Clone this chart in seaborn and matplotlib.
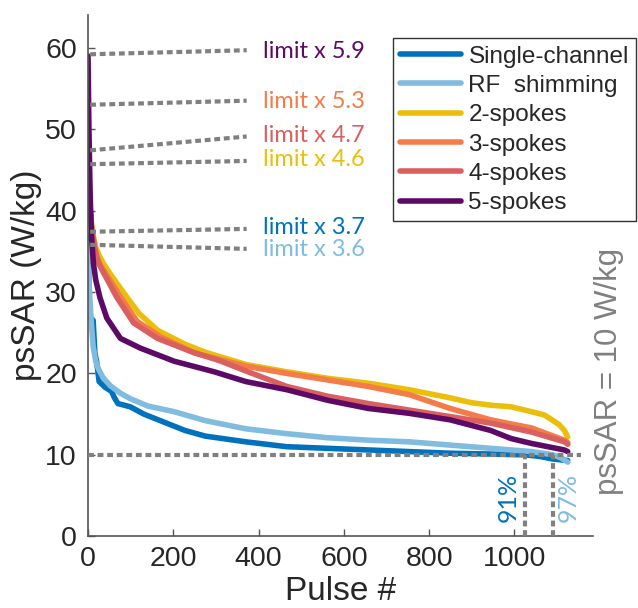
"""
psSAR per pulse, sorted in decreasing order, for the six excitation designs.
"""

import pandas as pd
import matplotlib
matplotlib.use("Agg")
import matplotlib.pyplot as plt
import seaborn as sns

# Series names and colours
SERIES = ["Single-channel", "RF  shimming", "2-spokes", "3-spokes", "4-spokes", "5-spokes"]
COLORS = ["#0072BD", "#80BBE0", "#EBBE0C", "#F47B4A", "#D9605F", "#5C0A66"]

# Pulse index and psSAR (W/kg)
single_x = [0, 2, 4, 12, 16, 20, 26, 40, 55, 62, 70, 99, 131, 179, 227, 275, 370, 466, 562, 657,
            753, 849, 944, 1025, 1060, 1088, 1125]
single_y = [37, 31, 27, 26.5, 22.5, 21.5, 19, 18.3, 17.8, 17, 16.3, 15.9, 15, 14, 13, 12.3, 11.6, 11,
            10.8, 10.6, 10.4, 10.2, 10.1, 10.0, 9.8, 9.5, 9.3]

rfshim_x = [0, 1, 4, 8, 12, 18, 24, 35, 52, 75, 99, 140, 202, 275, 370, 466, 562, 657, 753, 849, 944,
            1040, 1091, 1110, 1125]
rfshim_y = [36, 33, 29.3, 26, 23.3, 21.5, 20.6, 19.5, 18.5, 17.6, 16.9, 16, 15.3, 14.2, 13.2, 12.6, 12.1,
            11.8, 11.6, 11.2, 10.8, 10.4, 10.0, 9.6, 9.1]

spk2_x = [0, 2, 5, 10, 18, 26, 36, 55, 92, 119, 163, 227, 275, 370, 466, 562, 657, 753,
          849, 900, 944, 992, 1040, 1070, 1088, 1105, 1117, 1125]
spk2_y = [46, 43, 40, 37.5, 35.5, 34.5, 33.5, 32, 29.3, 27.4, 25.3, 23.6, 22.6, 21.1, 20.2,
          19.4, 18.8, 18, 17, 16.4, 16.1, 15.9, 15.3, 14.9, 14.3, 13.7, 13, 12.2]

spk3_x = [0, 2, 5, 10, 20, 30, 75, 115, 170, 250, 370, 466, 562, 657, 753, 849, 944, 1040, 1117, 1125]
spk3_y = [53, 45, 40, 37, 34.3, 33.2, 29.5, 26.4, 24.5, 22.5, 20.9, 20, 19.2, 18.4, 17.4, 15.7, 14.3,
          13.3, 11.8, 11.5]

spk4_x = [0, 3, 8, 15, 25, 35, 68, 107, 163, 241, 312, 370, 466, 562, 657, 753, 849, 944, 1040, 1117,
          1125]
spk4_y = [47, 42, 38, 35.5, 33.5, 32.5, 29.3, 26.2, 24.3, 22.7, 21.5, 20.3, 18.4, 17.2, 16.3, 15.5,
          14.7, 13.9, 12.8, 11.6, 11.3]

spk5_x = [0, 2, 5, 8, 12.6, 18, 28, 44, 76, 123, 202, 296, 370, 466, 562, 657, 753, 849, 944,
          992, 1040, 1117, 1125]
spk5_y = [59, 50, 41.7, 37, 33.5, 31.5, 29.3, 26.8, 24.3, 23.1, 21.5, 20.2, 19, 18, 16.7, 15.7,
          15.1, 14.3, 13, 12, 11.4, 10.6, 10.4]

# "limit x N" guide lines: start / end heights and labels
LIMIT_LABELS = ["limit x 5.9", "limit x 5.3", "limit x 4.7", "limit x 4.6", "limit x 3.7", "limit x 3.6"]
LIMIT_COLORS = ["#5C0A66", "#F47B4A", "#D9605F", "#EBBE0C", "#0072BD", "#80BBE0"]
limit_y0 = [59.2, 53.0, 47.4, 45.7, 37.4, 35.8]
limit_y1 = [59.7, 53.5, 49.1, 46.1, 37.75, 35.3]
limit_text_y = [59.6, 53.4, 49.2, 46.25, 37.9, 35.2]

PSSAR_LIMIT = 10
CROSS_X = [1025, 1091]
CROSS_LABELS = ["91%", "97%"]

GRAY = "#808080"
DOTS = (0, (1.4, 0.9))
TEXT = "#262626"


def build_frame() -> pd.DataFrame:
    parts = []
    for name, xs, ys in zip(SERIES,
                            [single_x, rfshim_x, spk2_x, spk3_x, spk4_x, spk5_x],
                            [single_y, rfshim_y, spk2_y, spk3_y, spk4_y, spk5_y]):
        parts.append(pd.DataFrame({"pulse": xs, "pssar": ys, "design": name}))
    return pd.concat(parts, ignore_index=True)


def main():
    sns.set_style("ticks")
    plt.rcParams["font.family"] = ["Liberation Sans", "DejaVu Sans"]
    label_font = ["Lato", "DejaVu Sans"]

    df = build_frame()
    fig = plt.figure(figsize=(6.38, 6.08), dpi=100)
    ax = fig.add_axes([0.138, 0.118, 0.792, 0.857])

    sns.lineplot(data=df, x="pulse", y="pssar", hue="design", hue_order=SERIES,
                 palette=COLORS, sort=False, estimator=None, linewidth=4, ax=ax,
                 legend=True, zorder=2)

    # guide lines for the peak values
    for y0, y1, lab, col, ty in zip(limit_y0, limit_y1, LIMIT_LABELS, LIMIT_COLORS, limit_text_y):
        ax.plot([5, 372], [y0, y1], color=GRAY, linestyle=DOTS, linewidth=3, zorder=3)
        ax.text(410, ty, lab, color=col, fontsize=17, va="center", ha="left", family=label_font)

    # 10 W/kg threshold
    ax.plot([0, 1155], [PSSAR_LIMIT, PSSAR_LIMIT], color=GRAY, linestyle=DOTS, linewidth=3, zorder=3)
    for cx in CROSS_X:
        ax.plot([cx, cx], [0, PSSAR_LIMIT], color=GRAY, linestyle=DOTS, linewidth=3, zorder=3)
    ax.text(1012, 4.8, CROSS_LABELS[0], color=COLORS[0], rotation=90, fontsize=18,
            ha="right", va="center", family=label_font)
    ax.text(1100, 4.8, CROSS_LABELS[1], color=COLORS[1], rotation=90, fontsize=18,
            ha="left", va="center", family=label_font)
    ax.text(1222, 20.3, "psSAR = 10 W/kg", color=GRAY, rotation=90, fontsize=22.5,
            ha="center", va="center", clip_on=False)

    ax.set_xlim(0, 1185)
    ax.set_ylim(0, 64)
    ax.set_xticks([0, 200, 400, 600, 800, 1000])
    ax.set_yticks([0, 10, 20, 30, 40, 50, 60])
    ax.tick_params(direction="in", labelsize=20.5, labelcolor=TEXT, color="#555555",
                   length=5, width=1)
    ax.tick_params(axis="x", pad=7)
    ax.tick_params(axis="y", pad=8)
    ax.set_xlabel("Pulse #", fontsize=24, color=TEXT, labelpad=3)
    ax.set_ylabel("psSAR (W/kg)", fontsize=24, color=TEXT, labelpad=2)
    for side in ["top", "right"]:
        ax.spines[side].set_visible(False)
    for side in ["left", "bottom"]:
        ax.spines[side].set_color("#555555")
        ax.spines[side].set_linewidth(1.2)

    handles, labels = ax.get_legend_handles_labels()
    leg = ax.legend(handles, labels, loc="upper right", bbox_to_anchor=(0.997, 0.937),
                    bbox_transform=fig.transFigure, fontsize=17.5, frameon=True, fancybox=False,
                    framealpha=1, edgecolor="#333333", handlelength=2.5, handletextpad=0.3,
                    labelspacing=0.3, borderpad=0.3, borderaxespad=0)
    leg.get_frame().set_linewidth(1)
    for line in leg.get_lines():
        line.set_linewidth(4)

    fig.savefig("out.png", dpi=100)
    plt.close(fig)


if __name__ == "__main__":
    main()
